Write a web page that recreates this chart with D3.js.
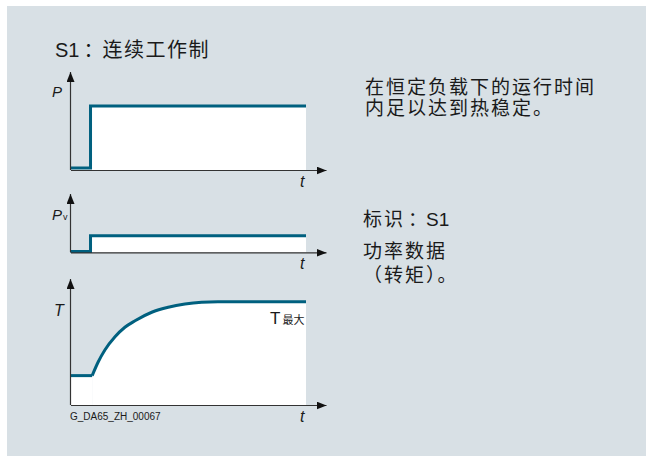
<!DOCTYPE html>
<html lang="zh">
<head>
<meta charset="UTF-8">
<title>S1</title>
<script src="https://cdn.jsdelivr.net/npm/d3@7/dist/d3.min.js"></script>
<style>
  body{margin:0;background:#fff;}
  text{font-family:"Liberation Sans",Arial,"Noto Sans CJK SC",sans-serif;fill:#1a1a1a;}
  .cjk{font-family:"Noto Sans CJK SC",sans-serif;}
</style>
</head>
<body>
<div class="chart"></div>
<script>
    //data
    let title='S1'
    let titleCn='连续工作制'
    let noteLines=['在恒定负载下的运行时间','内足以达到热稳定。']
    let markLines=['功率数据','（转矩）。']
    let markTitle='标识'
    let figId='G_DA65_ZH_00067'

    // P (load) step
    let pTime=[0,8.5,100]
    let pValue=[2,66,66]
    // Pv (losses) step
    let pvTime=[0,8.5,100]
    let pvValue=[1.5,29,29]
    // T (temperature) rise
    let tTime=[0,9.2,11.8,14.6,18.9,23.1,27.4,34.5,41.5,48.6,55.7,62.6,100]
    let tValue=[23.5,23.5,34.6,44,54.6,62.2,67.4,74.2,78.2,80.8,82.2,82.6,82.6]

    let lineColor='#00607f'
    let svg=d3.select('.chart').append('svg').attr('width',646).attr('height',456)
    svg.append('rect').attr('x',7).attr('y',6).attr('width',639).attr('height',450).attr('fill','#d8e0e5')

    let defs=svg.append('defs')
    defs.append('marker').attr('id','arr').attr('viewBox','0 0 10 8')
        .attr('refX',10).attr('refY',4).attr('markerWidth',10).attr('markerHeight',8)
        .attr('markerUnits','userSpaceOnUse').attr('orient','auto')
        .append('path').attr('d','M0,0L10,4L0,8Z').attr('fill','#111')

    let xScale=d3.scaleLinear().domain([0,100]).range([70.5,306])
    let xAxisScale=d3.scaleLinear().domain([0,108.4]).range([70.5,326])

    function panel(time,value,base,top,curve){
        let yScale=d3.scaleLinear().domain([0,100]).range([base,top])
        let g=svg.append('g')
        let pts=time.map((t,i)=>[t,value[i]])
        let area=d3.area().x(d=>xScale(d[0])).y0(yScale(0)).y1(d=>yScale(d[1]))
        let line=d3.line().x(d=>xScale(d[0])).y(d=>yScale(d[1]))
        if(curve==='step'){
            area.curve(d3.curveStepAfter);line.curve(d3.curveStepAfter)
            g.append('path').datum(pts).attr('d',area).attr('fill','#fff')
            g.append('path').datum(pts).attr('d',line).attr('fill','none')
                .attr('stroke',lineColor).attr('stroke-width',3)
        }else{
            let low=pts.slice(0,2),rise=pts.slice(1)
            g.append('path').datum(low).attr('d',area).attr('fill','#fff')
            g.append('path').datum(rise).attr('d',area.curve(d3.curveMonotoneX)).attr('fill','#fff')
            g.append('path').datum(low).attr('d',line).attr('fill','none')
                .attr('stroke',lineColor).attr('stroke-width',3)
            g.append('path').datum(rise).attr('d',line.curve(d3.curveMonotoneX)).attr('fill','none')
                .attr('stroke',lineColor).attr('stroke-width',3)
        }
        //axis
        let xAxis=d3.axisBottom(xAxisScale).tickValues([]).tickSizeOuter(0)
        let yAxis=d3.axisLeft(yScale).tickValues([]).tickSizeOuter(0)
        g.append('g').attr('transform','translate(0,'+base+')').call(xAxis)
            .select('.domain').attr('stroke','#333').attr('stroke-width',1.2).attr('marker-end','url(#arr)')
        g.append('g').attr('transform','translate(70.5,0)').call(yAxis)
            .select('.domain').attr('stroke','#333').attr('stroke-width',1.2)
            .attr('d','M0,'+base+'V'+(top-1)).attr('marker-end','url(#arr)')
        g.append('text').attr('x',300).attr('y',base+17).attr('font-size',16)
            .attr('font-style','italic').text('t')
        return g
    }

    let g1=panel(pTime,pValue,170,73,'step')
    g1.append('text').attr('x',52).attr('y',97).attr('font-size',15).attr('font-style','italic').text('P')
    let g2=panel(pvTime,pvValue,252.3,195,'step')
    let pv=g2.append('text').attr('x',52).attr('y',220).attr('font-size',15)
    pv.append('tspan').attr('font-style','italic').text('P')
    pv.append('tspan').attr('font-size',9).attr('dx',1).text('v')
    let g3=panel(tTime,tValue,405,280,'curve')
    g3.append('text').attr('x',54).attr('y',316).attr('font-size',16).attr('font-style','italic').text('T')
    let tm=g3.append('text').attr('x',270).attr('y',324).attr('font-size',17)
    tm.append('tspan').text('T')
    tm.append('tspan').attr('class','cjk').attr('font-size',11).attr('dx',2).text('最大')
    g3.append('text').attr('x',70).attr('y',420).attr('font-size',10).attr('fill','#333').text(figId)

    //title
    let tt=svg.append('text').attr('x',55).attr('y',57).attr('font-size',20)
    tt.append('tspan').text(title)
    tt.append('tspan').attr('class','cjk').attr('dx',4).text('：')
    tt.append('tspan').attr('class','cjk').attr('dx',-1).style('letter-spacing','1.5px').text(titleCn)

    //notes
    let note=svg.append('text').attr('class','cjk').attr('y',94)
        .attr('font-size',19).style('letter-spacing','2px')
    noteLines.forEach((s,i)=>{
        note.append('tspan').attr('x',365).attr('dy',i?21:0).text(s)
    })
    let mk=svg.append('text').attr('x',363).attr('y',226).attr('font-size',19)
    mk.append('tspan').attr('class','cjk').style('letter-spacing','2px').text(markTitle)
    mk.append('tspan').attr('class','cjk').attr('dx',3).text('：')
    mk.append('tspan').attr('dx',-1).text('S1')
    let mk2=svg.append('text').attr('class','cjk').attr('y',258)
        .attr('font-size',19).style('letter-spacing','2px')
    markLines.forEach((s,i)=>{
        mk2.append('tspan').attr('x',363).attr('dy',i?24:0).text(s)
    })
</script>
</body>
</html>
